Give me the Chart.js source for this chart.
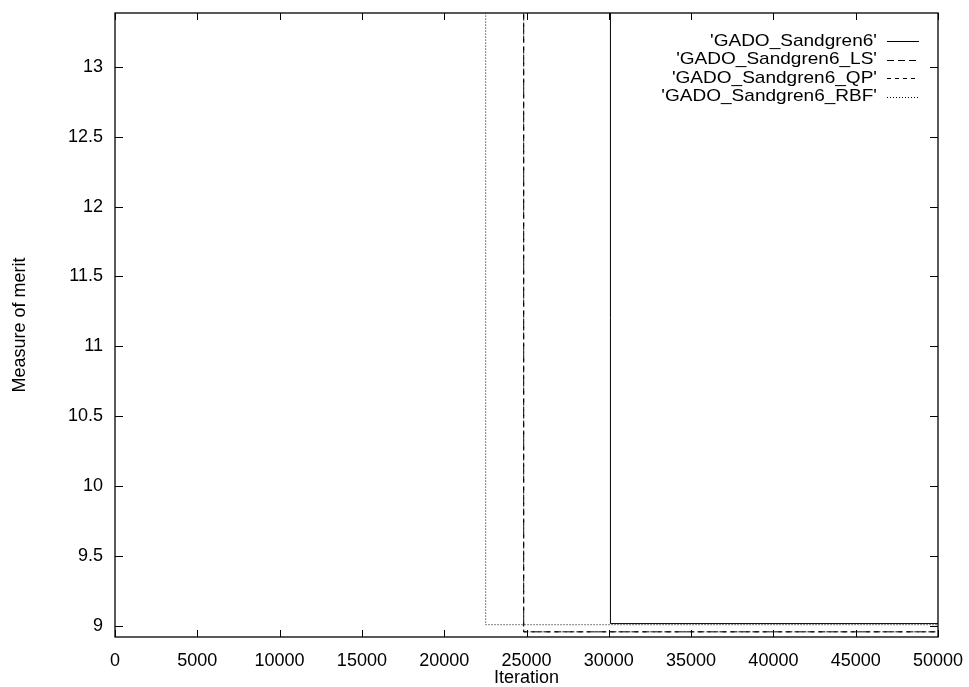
<!DOCTYPE html>
<html>
<head>
<meta charset="utf-8">
<script src="https://cdn.jsdelivr.net/npm/chart.js@4/dist/chart.umd.min.js"></script>
<style>
  html, body { margin: 0; padding: 0; background: #fff; }
  #wrap { width: 969px; height: 687px; }
</style>
</head>
<body>
<div id="wrap"><canvas id="chart" width="969" height="687"></canvas></div>
<script>
// series names
const seriesNames = ["'GADO_Sandgren6'", "'GADO_Sandgren6_LS'", "'GADO_Sandgren6_QP'", "'GADO_Sandgren6_RBF'"];

// iterations where each run improves (step points), and merit values there
const baseIter = [0, 30100, 50000];
const baseMerit = [14, 9.014, 9.014];
const lsIter = [0, 24830, 50000];
const lsMerit = [14, 8.955, 8.955];
const qpIter = [0, 24830, 50000];
const qpMerit = [14, 8.955, 8.955];
const rbfIter = [0, 22520, 50000];
const rbfMerit = [14, 9.006, 9.006];

// tick labels
const xTicks = [0, 5000, 10000, 15000, 20000, 25000, 30000, 35000, 40000, 45000, 50000];
const yTicks = [9, 9.5, 10, 10.5, 11, 11.5, 12, 12.5, 13];

const dashes = [[], [7, 4], [4, 4], [1, 2]];
const font = { family: "'Liberation Sans', Arial, sans-serif", size: 18 };

function pts(xs, ys) {
    return xs.map((x, i) => ({ x: x, y: ys[i] }));
}

const allData = [pts(baseIter, baseMerit), pts(lsIter, lsMerit), pts(qpIter, qpMerit), pts(rbfIter, rbfMerit)];

// gnuplot style frame, inward ticks and legend
const gnuFrame = {
    id: 'gnuFrame',
    afterDatasetsDraw(chart) {
        const ctx = chart.ctx;
        const a = chart.chartArea;
        const xs = chart.scales.x;
        const ys = chart.scales.y;
        ctx.save();
        ctx.strokeStyle = '#000';
        ctx.lineWidth = 1.3;
        ctx.strokeRect(a.left, a.top, a.right - a.left, a.bottom - a.top);
        ctx.lineWidth = 1;
        ctx.beginPath();
        xTicks.forEach(v => {
            const px = Math.round(xs.getPixelForValue(v)) + 0.5;
            ctx.moveTo(px, a.bottom); ctx.lineTo(px, a.bottom - 7);
            ctx.moveTo(px, a.top); ctx.lineTo(px, a.top + 7);
        });
        yTicks.forEach(v => {
            const py = Math.round(ys.getPixelForValue(v)) + 0.5;
            ctx.moveTo(a.left, py); ctx.lineTo(a.left + 8, py);
            ctx.moveTo(a.right, py); ctx.lineTo(a.right - 8, py);
        });
        ctx.stroke();

        // legend: text a bit wider than tall, like the original
        ctx.font = '17px ' + font.family;
        ctx.textAlign = 'right';
        ctx.textBaseline = 'middle';
        ctx.fillStyle = '#000';
        const sx = 167 / ctx.measureText(seriesNames[0]).width;
        chart.data.datasets.forEach((ds, i) => {
            const y = 41 + i * 18.5;
            ctx.save();
            ctx.translate(877, y);
            ctx.scale(sx, 1);
            ctx.fillText(ds.label, 0, 0);
            ctx.restore();
            ctx.setLineDash(dashes[i]);
            ctx.beginPath();
            ctx.moveTo(887, Math.round(y) + 0.5);
            ctx.lineTo(919, Math.round(y) + 0.5);
            ctx.stroke();
        });
        ctx.restore();
    }
};

const ctx = document.getElementById('chart').getContext('2d');
const chart = new Chart(ctx, {
    type: 'line',
    data: {
        datasets: seriesNames.map((name, i) => ({
            label: name,
            data: allData[i],
            borderColor: '#000',
            borderWidth: 1,
            borderDash: dashes[i],
            pointRadius: 0,
            fill: false,
            stepped: true
        }))
    },
    options: {
        responsive: false,
        animation: false,
        layout: { padding: { left: 0, right: 31, top: 13, bottom: 0 } },
        plugins: {
            legend: { display: false },
            tooltip: { enabled: false }
        },
        scales: {
            x: {
                type: 'linear',
                min: 0,
                max: 50000,
                border: { display: false },
                grid: { display: false, drawTicks: false },
                afterBuildTicks: s => { s.ticks = xTicks.map(v => ({ value: v })); },
                afterFit: s => { s.height = 50; s.paddingLeft = 0; s.paddingRight = 0; },
                ticks: {
                    color: '#000',
                    font: font,
                    padding: 13,
                    maxRotation: 0,
                    autoSkip: false,
                    callback: v => String(v)
                },
                title: {
                    display: true,
                    text: 'Iteration',
                    color: '#000',
                    font: font,
                    padding: { top: 0, bottom: -1.5 }
                }
            },
            y: {
                type: 'linear',
                min: 8.918,
                max: 13.386,
                border: { display: false },
                grid: { display: false, drawTicks: false },
                afterBuildTicks: s => { s.ticks = yTicks.map(v => ({ value: v })); },
                afterFit: s => { s.width = 115; s.paddingTop = 0; s.paddingBottom = 0; },
                ticks: {
                    color: '#000',
                    font: font,
                    padding: 12,
                    autoSkip: false,
                    callback: v => String(v)
                },
                title: {
                    display: true,
                    text: 'Measure of merit',
                    color: '#000',
                    font: font,
                    padding: { top: 9, bottom: 0 }
                }
            }
        }
    },
    plugins: [gnuFrame]
});
</script>
</body>
</html>
